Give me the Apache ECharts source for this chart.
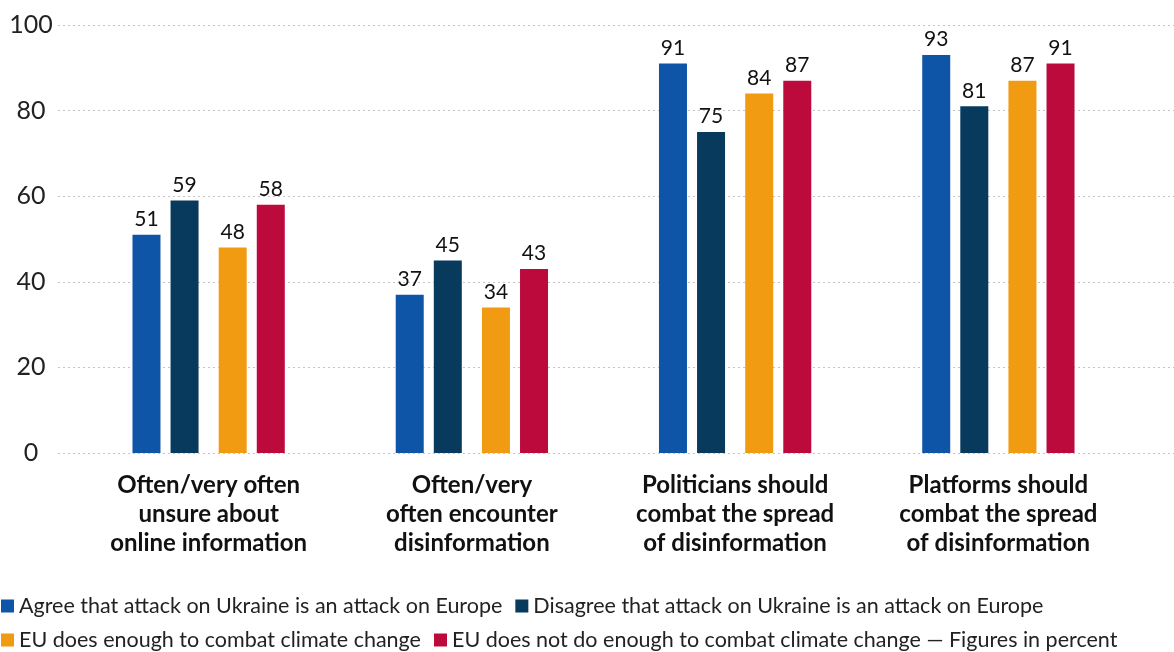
<!DOCTYPE html>
<html style="height: 100%">
<head>
    <meta charset="utf-8">
    <script type="text/javascript" src="https://cdn.jsdelivr.net/npm/echarts@6/dist/echarts.min.js"></script>
</head>
<body style="height: 100%; margin: 0; background: #fff">
<div id="container" style="height: 652px;width: 1174px;position: absolute;top: 0;left: 0;"></div>
<script type="text/javascript">
    // data
    var categories = [
        'Often/very often\nunsure about\nonline information',
        'Often/very\noften encounter\ndisinformation',
        'Politicians should\ncombat the spread\nof disinformation',
        'Platforms should\ncombat the spread\nof disinformation'
    ];
    var seriesNames = [
        'Agree that attack on Ukraine is an attack on Europe',
        'Disagree that attack on Ukraine is an attack on Europe',
        'EU does enough to combat climate change',
        'EU does not do enough to combat climate change'
    ];
    var agreeAttack = [51, 37, 91, 93];
    var disagreeAttack = [59, 45, 75, 81];
    var euEnough = [48, 34, 84, 87];
    var euNotEnough = [58, 43, 87, 91];
    var yTicks = [0, 20, 40, 60, 80, 100];

    var colors = ['#0e55a7', '#073a5c', '#f19b12', '#bc0a3d'];
    var font = 'Lato, "Open Sans", sans-serif';

    var dom = document.getElementById('container');
    var myChart = echarts.init(dom);

    function barSeries(name, data, color) {
        return {
            name: name,
            type: 'bar',
            xAxisIndex: 1,
            yAxisIndex: 1,
            barWidth: 28,
            barGap: '36%',
            itemStyle: {color: color},
            label: {
                show: true,
                position: 'top',
                distance: 5,
                fontFamily: font,
                fontSize: 21,
                color: '#111'
            },
            data: data
        };
    }

    // spacer so the two pairs sit a bit further apart
    var spacer = {
        name: 'spacer',
        type: 'bar',
        xAxisIndex: 1,
        yAxisIndex: 1,
        barWidth: 7.4,
        barGap: '36%',
        silent: true,
        itemStyle: {color: 'transparent'},
        data: ['-', '-', '-', '-']
    };

    var legendText = {fontFamily: font, fontSize: 21.5, color: '#222'};

    var option = {
        animation: false,
        color: colors,
        grid: [
            {left: 58, right: 0, top: 25, bottom: 199},
            {left: 77, right: 44, top: 25, bottom: 199}
        ],
        xAxis: [
            {gridIndex: 0, type: 'value', show: false, min: 0, max: 1},
            {
                gridIndex: 1,
                type: 'category',
                data: categories,
                axisLine: {show: false},
                axisTick: {show: false},
                axisLabel: {
                    margin: 18,
                    fontFamily: font,
                    fontWeight: 'bold',
                    fontSize: 24,
                    lineHeight: 29,
                    color: '#111',
                    interval: 0
                }
            }
        ],
        yAxis: [
            {
                gridIndex: 0,
                type: 'value',
                min: yTicks[0],
                max: yTicks[yTicks.length - 1],
                interval: yTicks[1] - yTicks[0],
                axisLine: {show: false},
                axisTick: {show: false},
                axisLabel: {
                    align: 'center',
                    margin: 27,
                    fontFamily: font,
                    fontSize: 25,
                    color: '#222'
                },
                splitLine: {lineStyle: {color: '#c4c4c4', type: [2, 3], width: 1}}
            },
            {
                gridIndex: 1,
                type: 'value',
                min: 0,
                max: 100,
                show: false
            }
        ],
        legend: [
            {
                left: 1,
                top: 595,
                padding: 0,
                itemWidth: 13,
                itemHeight: 13,
                itemGap: 13,
                icon: 'rect',
                textStyle: legendText,
                data: [seriesNames[0], seriesNames[1]]
            },
            {
                left: 1,
                top: 629,
                padding: 0,
                itemWidth: 13,
                itemHeight: 13,
                itemGap: 13,
                icon: 'rect',
                textStyle: legendText,
                formatter: function (name) {
                    if (name === seriesNames[3]) {
                        return name + ' \u2014 Figures in percent';
                    }
                    return name;
                },
                data: [seriesNames[2], seriesNames[3]]
            }
        ],
        series: [
            {type: 'bar', xAxisIndex: 0, yAxisIndex: 0, data: [], silent: true},
            barSeries(seriesNames[0], agreeAttack, colors[0]),
            barSeries(seriesNames[1], disagreeAttack, colors[1]),
            spacer,
            barSeries(seriesNames[2], euEnough, colors[2]),
            barSeries(seriesNames[3], euNotEnough, colors[3])
        ]
    };
    myChart.setOption(option, true);
</script>
</body>
</html>
